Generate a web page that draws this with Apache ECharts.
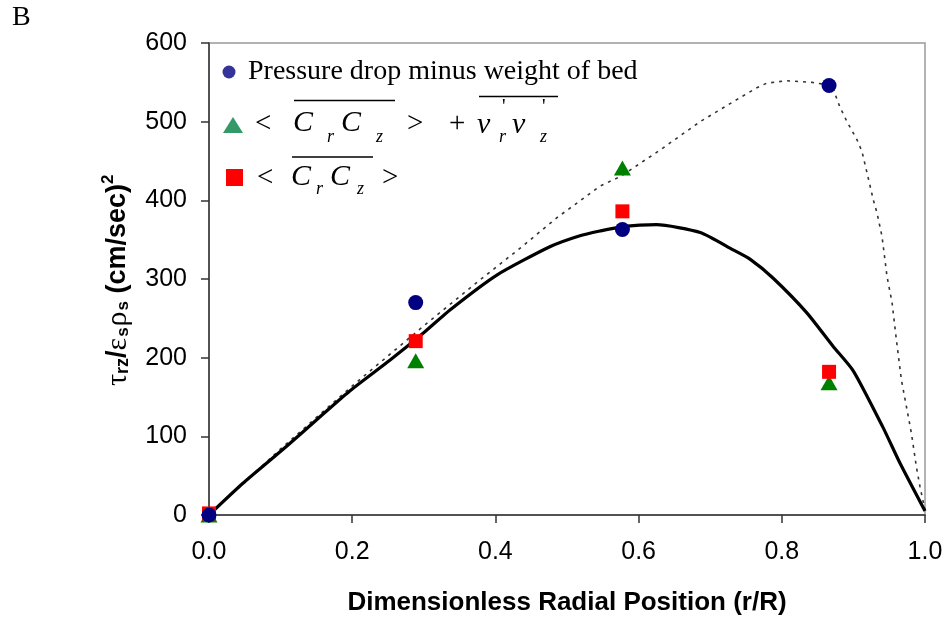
<!DOCTYPE html>
<html><head><meta charset="utf-8">
<script src="https://cdn.jsdelivr.net/npm/echarts@6/dist/echarts.min.js"></script>
<style>html,body{margin:0;padding:0;background:#fff}#c{width:944px;height:620px}</style>
</head><body><div id="c"></div>
<script>
// ---- data ----
const xTickValues = [0, 0.2, 0.4, 0.6, 0.8, 1.0];
const yTickValues = [0, 100, 200, 300, 400, 500, 600];
const pointPositions = [0, 0.2887, 0.5774, 0.866];
const pressureDrop = [0, 270, 363, 546];
const stressTotal = [0, 196, 441, 168];
const stressCollisional = [2, 221, 386, 182];
const solidX = [0, 0.047, 0.108, 0.159, 0.197, 0.253, 0.299, 0.337, 0.402, 0.476, 0.518, 0.546, 0.574, 0.625, 0.686, 0.732, 0.756, 0.788, 0.835, 0.872, 0.900, 0.941, 0.965, 1.0];
const solidY = [0, 40, 87, 128, 158, 197, 231, 261, 305, 341, 355, 361, 366, 369, 359, 337, 325, 301, 257, 214, 183, 112, 66, 5];
const dottedX = [0, 0.1, 0.2, 0.302, 0.376, 0.437, 0.486, 0.546, 0.576, 0.630, 0.686, 0.737, 0.765, 0.779, 0.807, 0.842, 0.870, 0.881, 0.891, 0.905, 0.912, 0.919, 0.928, 0.933, 0.940, 0.947, 0.954, 0.960, 0.967, 0.974, 0.981, 0.988, 0.993, 1.0];
const dottedY = [0, 84, 164, 242, 297, 341, 378, 418, 431, 464, 500, 528, 543, 549, 552, 550, 546, 519, 500, 477, 462, 435, 400, 384, 354, 303, 270, 223, 172, 138, 104, 61, 36, 6];

const zip = (xs, ys) => xs.map((x, i) => [x, ys[i]]);

const SANS = '"Liberation Sans", Arial, sans-serif';
const SERIF = '"Liberation Serif", "Times New Roman", serif';

const mctx = document.createElement('canvas').getContext('2d');
function tw(text, font) { mctx.font = font; return mctx.measureText(text).width; }
function T(x, y, text, font, extra) {
  return Object.assign({
    type: 'text', x: x, y: y, z: 100,
    style: { text: text, font: font, fill: '#000', align: 'left', verticalAlign: 'middle', textAlign: 'left', textVerticalAlign: 'middle' }
  }, extra || {});
}
function L(x1, y1, x2, y2) {
  return { type: 'line', z: 100, shape: { x1: x1, y1: y1, x2: x2, y2: y2 }, style: { stroke: '#000', lineWidth: 1.5 } };
}
function run(pieces) {
  let x = 0; const out = [];
  pieces.forEach(p => {
    out.push(T(x, p.dy || 0, p.t, p.f));
    x += tw(p.t, p.f) + (p.gap || 0);
  });
  return out;
}

const mathFont = 'italic 30px ' + SERIF;
const opFont = '29px ' + SERIF;
const subFont = 'italic 18px ' + SERIF;
const primeFont = '20px ' + SERIF;

const graphics = [
  T(12, 18, 'B', '28px ' + SERIF),
  // legend row 1
  { type: 'circle', z: 100, shape: { cx: 229, cy: 72, r: 6.5 }, style: { fill: '#333399' } },
  T(248, 72, 'Pressure drop minus weight of bed', '28px ' + SERIF),
  // legend row 2
  { type: 'polygon', z: 100, shape: { points: [[223, 133], [243, 133], [233, 117]] }, style: { fill: '#339966' } },
  T(255, 124, '<', opFont),
  T(293, 123, 'C', mathFont),
  T(327, 137, 'r', subFont),
  T(341, 123, 'C', mathFont),
  T(376, 137, 'z', subFont),
  T(407, 124, '>', opFont),
  T(449, 124, '+', opFont),
  T(477, 125, 'v', mathFont),
  T(502, 108, "'", primeFont),
  T(499, 137, 'r', subFont),
  T(512, 125, 'v', mathFont),
  T(542, 108, "'", primeFont),
  T(540, 137, 'z', subFont),
  L(294, 100.5, 395, 100.5),
  L(479, 96.5, 558, 96.5),
  // legend row 3
  { type: 'rect', z: 100, shape: { x: 226, y: 169, width: 17, height: 17 }, style: { fill: '#ff0000' } },
  T(257, 178, '<', opFont),
  T(291, 177, 'C', mathFont),
  T(316, 189, 'r', subFont),
  T(330, 177, 'C', mathFont),
  T(357, 189, 'z', subFont),
  T(382, 178, '>', opFont),
  L(292, 157, 373, 157),
  // y axis title, rotated
  {
    type: 'group', x: 118, y: 386, rotation: Math.PI / 2, z: 100,
    children: run([
      { t: 'τ', f: '30px ' + SERIF },
      { t: 'rz', f: 'bold 18px ' + SANS, dy: 5 },
      { t: '/', f: 'bold 27px ' + SANS },
      { t: 'ε', f: '30px ' + SERIF, gap: 1 },
      { t: 's', f: 'bold 17px ' + SANS, dy: 5, gap: 1 },
      { t: 'ρ', f: '30px ' + SERIF, gap: 1 },
      { t: 's', f: 'bold 17px ' + SANS, dy: 5 },
      { t: ' (cm/sec)', f: 'bold 27px ' + SANS },
      { t: '2', f: 'bold 17px ' + SANS, dy: -10 }
    ])
  }
];

const chart = echarts.init(document.getElementById('c'), null, { renderer: 'canvas' });
chart.setOption({
  animation: false,
  backgroundColor: '#fff',
  grid: { left: 209, right: 19, top: 43, bottom: 105, outerBoundsMode: 'none', containLabel: false,
          show: true, borderColor: '#999', borderWidth: 1.5, backgroundColor: 'transparent' },
  xAxis: {
    type: 'value', min: xTickValues[0], max: xTickValues[xTickValues.length - 1], interval: 0.2,
    axisLine: { show: true, onZero: false, lineStyle: { color: '#333', width: 1.5 } },
    axisTick: { show: true, inside: false, length: 8, lineStyle: { color: '#333', width: 1.5 } },
    axisLabel: { fontSize: 25, fontFamily: SANS, color: '#000', margin: 25, formatter: v => v.toFixed(1) },
    splitLine: { show: false },
    name: 'Dimensionless Radial Position (r/R)', nameLocation: 'middle', nameGap: 75,
    nameTextStyle: { fontSize: 26, fontWeight: 'bold', fontFamily: SANS, color: '#000' }
  },
  yAxis: {
    type: 'value', min: yTickValues[0], max: yTickValues[yTickValues.length - 1], interval: 100,
    axisLine: { show: true, onZero: false, lineStyle: { color: '#333', width: 1.5 } },
    axisTick: { show: true, inside: false, length: 8, lineStyle: { color: '#333', width: 1.5 } },
    axisLabel: { fontSize: 25, fontFamily: SANS, color: '#000', margin: 22 },
    splitLine: { show: false }
  },
  series: [
    { name: 'dotted', type: 'line', data: zip(dottedX, dottedY), showSymbol: false, symbol: 'none', smooth: false,
      lineStyle: { color: '#333', width: 1.6, type: [3, 5] }, z: 2, clip: false },
    { name: 'solid', type: 'line', data: zip(solidX, solidY), showSymbol: false, symbol: 'none', smooth: 0.2,
      lineStyle: { color: '#000', width: 3.2 }, z: 3, clip: false },
    { name: 'Pressure drop minus weight of bed', type: 'scatter', data: zip(pointPositions, pressureDrop), symbol: 'circle', symbolSize: 15,
      itemStyle: { color: '#000080', opacity: 1 }, z: 6, clip: false },
    { name: 'total', type: 'scatter', data: zip(pointPositions, stressTotal), symbol: 'triangle', symbolSize: [17, 15],
      itemStyle: { color: '#008000', opacity: 1 }, z: 4, clip: false },
    { name: 'collisional', type: 'scatter', data: zip(pointPositions, stressCollisional), symbol: 'rect', symbolSize: 14,
      itemStyle: { color: '#ff0000', opacity: 1 }, z: 5, clip: false }
  ],
  graphic: graphics
});
</script>
</body></html>
